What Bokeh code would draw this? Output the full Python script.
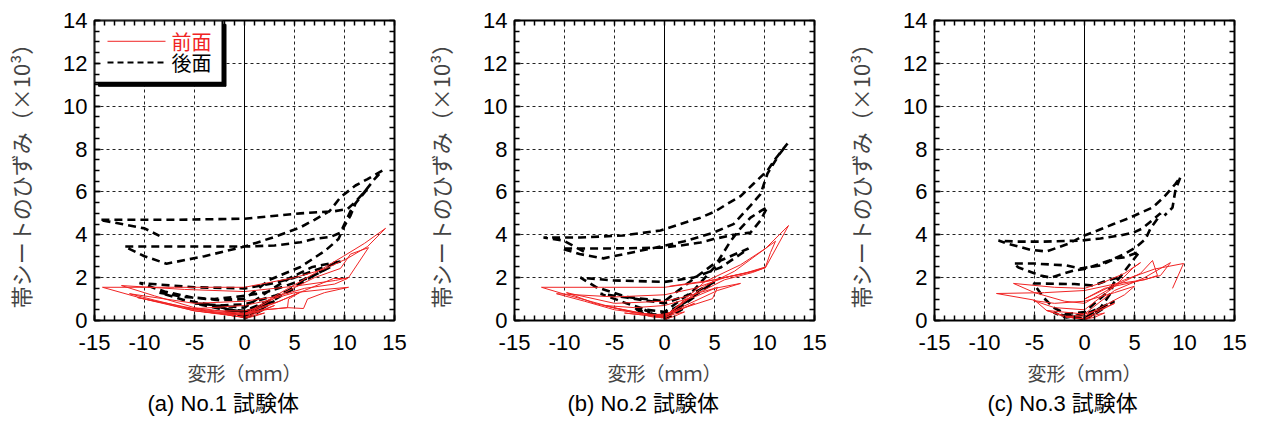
from bokeh.plotting import figure
from bokeh.layouts import row
from bokeh.models import (FixedTicker, LinearAxis, Span, Title)
from bokeh.core.properties import value
from bokeh.embed import file_html
from bokeh.resources import INLINE
import numpy as np

# ---------------- data ----------------
X_TICKS = [-15, -10, -5, 0, 5, 10, 15]
Y_TICKS = [0, 2, 4, 6, 8, 10, 12, 14]
X_LABEL = "変形（ｍｍ）"
Y_LABEL = "帯シートのひずみ（×10³）"
CAPTIONS = ["(a) No.1 試験体", "(b) No.2 試験体", "(c) No.3 試験体"]
SERIES_NAMES = ["前面", "後面"]

# Panel (a) No.1 : back face (dashed)
a_back_x = [0, 1, 2, 1, 0, -1, -2, -1, 0,
            1.5, 3, 1.5, 0, -1.5, -3, -1.5, 0,
            2.5, 5, 3, 0, -2.5, -5, -2.5, 0,
            2.9, 5.1, 7.3, 8.6, 6.5, 4, 2, 0, -3, -6, -8.5, -6, -3, 0,
            2.5, 4.6, 6.8, 9.6, 8, 5, 2.5, 0, -5, -10.5, -8, -5, -2.5, 0,
            2.5, 5.6, 8.1, 9.4, 9.9, 10.6, 11.1, 12.1, 12.4, 10.8, 9.6, 8.6, 6.9, 5.6, 3, 0, -6, -12, -10, -7.8, -4, 0,
            3, 5.6, 7, 8.5, 9.6, 11.1, 12.3, 13.8, 13, 12, 11, 10.3, 9, 5.6, 0, -7, -14.5, -10, -8.5]
a_back_y = [0.1, 0.3, 0.55, 0.4, 0.2, 0.3, 0.45, 0.3, 0.15,
            0.5, 0.9, 0.65, 0.4, 0.5, 0.7, 0.5, 0.3,
            0.85, 1.5, 1.15, 0.75, 0.7, 0.8, 0.55, 0.45,
            1.0, 1.6, 2.2, 2.5, 2.0, 1.6, 1.3, 1.15, 1.0, 1.1, 1.3, 0.95, 0.7, 0.6,
            1.4, 2.0, 2.5, 2.75, 2.5, 2.0, 1.7, 1.5, 1.55, 1.75, 1.35, 1.05, 0.95, 1.0,
            1.9, 2.5, 3.27, 3.8, 4.34, 4.9, 5.46, 6.07, 6.2, 5.3, 4.1, 3.9, 3.8, 3.65, 3.5, 3.45, 3.45, 3.45, 3.0, 2.65, 3.0, 3.45,
            3.9, 4.35, 4.7, 5.1, 5.75, 6.3, 6.6, 7.0, 6.6, 6.0, 5.5, 5.2, 5.1, 5.0, 4.75, 4.7, 4.7, 4.3, 3.95]
# Panel (a) No.1 : front face (solid)
a_front_x = [0, 1, 2, 1, 0, -1, -2, -1, 0,
             1.5, 3, 1.5, 0, -2, -4, -2, 0,
             2, 4.3, 4.4, 5.5, 3.5, 1.5, 0, -3, -6, -3, 0,
             2, 4.3, 5.9, 6.3, 8, 10.4, 8, 5, 2, 0, -5, -10.7, -8, -5, -2, 0,
             3, 6, 8.9, 10.3, 9, 6, 3, 0, -5, -11.5, -9, -5, 0,
             4, 7, 9.6, 10.6, 12.4, 10.4, 9.1, 5, 0, -6, -12.3, -9, -5, 0,
             4, 7, 9.9, 12, 14.1, 12.3, 10.3, 8, 5, 0, -7, -14.2, -10, -5, 0]
a_front_y = [0.1, 0.2, 0.35, 0.25, 0.15, 0.2, 0.3, 0.2, 0.15,
             0.4, 0.7, 0.45, 0.3, 0.3, 0.4, 0.3, 0.25,
             0.5, 0.6, 1.0, 1.3, 0.9, 0.6, 0.45, 0.45, 0.6, 0.4, 0.35,
             0.5, 0.6, 0.56, 1.0, 1.3, 1.55, 1.45, 1.3, 0.9, 0.7, 0.55, 1.07, 0.8, 0.45, 0.3, 0.3,
             0.8, 1.4, 1.96, 1.96, 1.7, 1.5, 1.1, 0.9, 0.8, 1.25, 0.95, 0.5, 0.25,
             1.3, 2.0, 2.43, 3.1, 3.4, 2.0, 1.87, 1.6, 1.35, 1.45, 1.63, 1.15, 0.6, 0.3,
             1.4, 2.2, 3.0, 3.6, 4.3, 3.45, 2.9, 2.4, 2.0, 1.55, 1.55, 1.55, 1.0, 0.45, 0.15]

# Panel (b) No.2 : back face (dashed)
b_back_x = [0, 1, 2, 1, 0, -1, -2, -1, 0,
            1.5, 3, 1.5, 0, -1.8, -3.1, -1.8, 0,
            2.5, 5, 3, 0, -3.8, -6.4, -3.8, -1.8, 0,
            2.9, 5.6, 8.4, 7.3, 5.6, 2.9, 0, -5.1, -8.4, -6.8, -3.8, 0,
            2.5, 5.4, 6.6, 7.6, 8.6, 9.6, 10.3, 9.6, 8.6, 6.9, 4.9, 3.6, 1.6, -0.4, -5.3, -10.3, -8.5, -6.1, -3, -0.4,
            2, 4.9, 6.9, 8.6, 9.6, 10.3, 11.4, 12.3, 11.1, 10.3, 8.9, 7.6, 6.3, 5.1, 3.6, 1.6, -0.4, -4.1, -8.4, -12.1, -10.1, -8]
b_back_y = [0.05, 0.3, 0.6, 0.4, 0.15, 0.25, 0.5, 0.3, 0.1,
            0.6, 1.1, 0.7, 0.3, 0.25, 0.6, 0.35, 0.2,
            1.0, 1.8, 1.3, 0.8, 1.07, 1.25, 0.8, 0.5, 0.4,
            1.4, 2.8, 3.36, 3.0, 2.47, 2.0, 1.8, 1.87, 2.0, 1.55, 1.1, 0.9,
            1.8, 2.8, 3.7, 4.3, 4.8, 5.1, 5.3, 4.67, 4.1, 4.0, 3.8, 3.64, 3.5, 3.4, 3.36, 3.36, 3.1, 2.9, 3.2, 3.45,
            3.7, 4.1, 4.5, 5.36, 5.9, 6.86, 7.7, 8.26, 7.55, 7.0, 6.38, 5.8, 5.45, 5.1, 4.8, 4.5, 4.2, 3.97, 3.87, 3.87, 3.73, 3.2]
# Panel (b) No.2 : front face (solid)
b_front_x = [0, 1, 2, 1, 0, -1, -2, -1, 0,
             1.5, 3, 1.5, 0, -2, -4, -2, 0,
             2, 4.8, 5.3, 3, 0, -3, -6, -3, 0,
             3, 5.3, 7.6, 5, 2, 0, -5, -9.8, -7, -5.1, -2, 0,
             3, 6, 8.8, 10.1, 9, 6, 3, 0, -5, -10.8, -8, -5, 0,
             4, 7, 10.1, 11.1, 10.6, 10.1, 8, 4, 0, -6, -12.3, -9.8, -5.1, 0,
             4, 7.6, 10.1, 12.4, 10.1, 8.8, 5, 0.5]
b_front_y = [0.05, 0.2, 0.4, 0.3, 0.15, 0.15, 0.25, 0.2, 0.1,
             0.5, 0.8, 0.5, 0.3, 0.25, 0.35, 0.25, 0.2,
             0.6, 1.02, 1.55, 1.1, 0.7, 0.6, 0.7, 0.35, 0.25,
             0.9, 1.4, 1.73, 1.5, 1.1, 0.9, 0.8, 1.3, 0.8, 0.6, 0.3, 0.2,
             1.2, 1.9, 2.24, 2.47, 2.3, 2.0, 1.5, 1.2, 1.1, 1.25, 0.9, 0.5, 0.2,
             1.6, 2.3, 3.36, 3.7, 3.17, 2.5, 2.2, 1.8, 1.55, 1.55, 1.55, 1.2, 0.6, 0.14,
             1.8, 2.6, 3.36, 4.43, 2.47, 2.3, 1.9, 1.6]

# Panel (c) No.3 : back face (dashed)
c_back_x = [0, 1, 2, 1, 0, -1, -2, -1, 0,
            1.5, 3, 1.6, 0.3, -1.8, -3.1, -1.8, 0,
            1.6, 2.6, 2.9, 3.3, 2.3, 0.9, -1, -5.1, -4.1, -3.1, -1.8, 0,
            2, 3.5, 4.5, 5.5, 3.9, 3.1, 1.6, -0.4, -1.8, -5.1, -7.1, -6.6, -4.4, -3.4, -1.1, 0,
            2.5, 4, 5.1, 6.1, 6.6, 7.3, 7.6, 5.8, 4.9, 3.6, 1.6, -0.4, -4.1, -6.8, -8.6, -7.8, -5.4, -3.8, -1.5, 0,
            1.3, 2.9, 4.3, 5.4, 6.8, 7.9, 9.1, 9.6, 9.1, 8.8, 8]
c_back_y = [0.05, 0.3, 0.6, 0.35, 0.1, 0.15, 0.3, 0.15, 0.05,
            0.5, 0.9, 0.6, 0.33, 0.14, 0.37, 0.2, 0.1,
            0.6, 1.26, 1.73, 2.0, 1.87, 1.63, 1.7, 1.73, 1.07, 0.6, 0.3, 0.4,
            1.2, 2.0, 2.6, 3.2, 2.94, 2.9, 2.57, 2.43, 2.57, 2.66, 2.66, 2.47, 2.1, 2.0, 2.33, 2.4,
            2.8, 3.1, 3.4, 3.8, 4.3, 4.75, 5.0, 4.3, 4.1, 3.97, 3.83, 3.73, 3.68, 3.68, 3.73, 3.6, 3.3, 3.22, 3.6, 3.97,
            4.2, 4.5, 4.75, 4.98, 5.27, 5.74, 6.38, 6.7, 6.1, 5.27, 4.9]
# Panel (c) No.3 : front face (solid)
c_front_x = [0, 1, 2, 1, 0, -1, -2, -1, 0,
             1.5, 3, 1.5, 0, -1.8, -3.8, -1.8, 0,
             2, 4, 5, 3, 0, -3, -5.1, -3, 0,
             2.9, 4.9, 5.6, 4, 2, 0, -3, -7.1, -5, -2, 0,
             3, 5.6, 6.8, 7.3, 6, 3, 0, -4, -8.8, -5, -3.8, 0,
             3, 6, 8.6, 7.6, 5, 2, 0,
             4, 7, 9.9, 8.8]
c_front_y = [0.05, 0.15, 0.35, 0.25, 0.1, 0.1, 0.2, 0.12, 0.08,
             0.45, 0.8, 0.5, 0.3, 0.14, 0.47, 0.2, 0.2,
             0.7, 1.2, 1.6, 1.3, 0.9, 0.8, 0.93, 0.6, 0.5,
             1.55, 2.47, 2.7, 2.2, 1.8, 1.5, 1.55, 1.73, 1.3, 0.9, 0.8,
             1.6, 2.2, 2.8, 2.1, 1.9, 1.7, 1.4, 1.3, 1.26, 0.95, 0.47, 0.3,
             1.4, 2.0, 2.7, 2.1, 1.8, 1.5, 1.0,
             1.9, 2.4, 2.66, 1.5]

PANELS = [
    (a_front_x, a_front_y, a_back_x, a_back_y),
    (b_front_x, b_front_y, b_back_x, b_back_y),
    (c_front_x, c_front_y, c_back_x, c_back_y),
]

# ---------------- styles ----------------
RED = "#f02424"
CJK = "Noto Sans CJK JP"
NUM = "Liberation Sans"
X_RANGE = (-15, 15)
Y_RANGE = (0, 14)
X_MINOR = list(np.arange(-15, 15.01, 1.0))
Y_MINOR = list(np.arange(0, 14.01, 0.5))


def style_axis(ax, labels=True):
    ax.axis_line_color = None
    ax.major_tick_in = 6
    ax.major_tick_out = 0
    ax.minor_tick_in = 5
    ax.minor_tick_out = 0
    ax.major_tick_line_color = "black"
    ax.minor_tick_line_color = "black"
    ax.major_tick_line_width = 1.5
    ax.minor_tick_line_width = 1.5
    if labels:
        ax.major_label_text_font = NUM
        ax.major_label_text_font_size = "22px"
        ax.major_label_text_color = "black"


def make_panel(i, fx, fy, bx, by, legend=False):
    p = figure(width=420, height=421, x_range=X_RANGE, y_range=Y_RANGE,
               output_backend="svg", toolbar_location=None,
               min_border_left=94, min_border_right=26,
               min_border_top=20, min_border_bottom=101)
    p.background_fill_color = "white"
    p.border_fill_color = "white"
    p.outline_line_color = "black"
    p.outline_line_width = 2

    xt = FixedTicker(ticks=X_TICKS, minor_ticks=X_MINOR)
    yt = FixedTicker(ticks=Y_TICKS, minor_ticks=Y_MINOR)

    xa = p.xaxis[0]
    ya = p.yaxis[0]
    xa.ticker = xt
    ya.ticker = yt
    style_axis(xa)
    style_axis(ya)
    xa.major_label_overrides = {t: str(t) for t in X_TICKS}
    xa.major_label_standoff = 14
    ya.major_label_standoff = 7
    xa.axis_label = X_LABEL
    xa.axis_label_text_font = CJK
    xa.axis_label_text_font_size = "19px"
    xa.axis_label_text_font_style = "normal"
    xa.axis_label_standoff = 6
    ya.axis_label = Y_LABEL
    ya.axis_label_text_font = CJK
    ya.axis_label_text_font_size = "22px"
    ya.axis_label_text_font_style = "normal"
    ya.axis_label_standoff = 24

    # frame ticks on the top and right sides (no labels)
    top = LinearAxis(ticker=FixedTicker(ticks=[], minor_ticks=X_MINOR))
    style_axis(top, labels=False)
    p.add_layout(top, "above")
    right = LinearAxis(ticker=FixedTicker(ticks=[], minor_ticks=Y_MINOR))
    style_axis(right, labels=False)
    p.add_layout(right, "right")

    for g in (p.xgrid[0], p.ygrid[0]):
        g.grid_line_color = "#222222"
        g.grid_line_dash = "3 3"
        g.grid_line_width = 1
    p.xgrid[0].ticker = xt
    p.ygrid[0].ticker = yt

    p.add_layout(Span(location=0, dimension="height", line_color="black", line_width=1))

    p.line(bx, by, line_color="black", line_width=2.6, line_dash="8 5")
    p.line(fx, fy, line_color=RED, line_width=1)

    cap = Title(text=CAPTIONS[i], align="left", offset=53, text_font=NUM + ", " + CJK,
                text_font_size="22px", text_font_style="normal", text_color="black",
                standoff=0)
    p.add_layout(cap, "below")

    if legend:
        p.quad(left=[-14.6], right=[-1.85], top=[13.82], bottom=[10.93],
               fill_color="black", line_color="black")
        p.quad(left=[-15], right=[-2.2], top=[14], bottom=[11.1],
               fill_color="white", line_color="black", line_width=2)
        p.line([-13.7, -7.9], [13.03, 13.03], line_color=RED, line_width=1)
        p.line([-13.7, -7.9], [12.04, 12.04], line_color="black", line_width=2, line_dash="6 4")
        p.text(x=[-7.3], y=[13.03], text=[SERIES_NAMES[0]], text_font=value(CJK),
               text_font_size="20px", text_color=RED, text_baseline="middle")
        p.text(x=[-7.3], y=[12.04], text=[SERIES_NAMES[1]], text_font=value(CJK),
               text_font_size="20px", text_color="black", text_baseline="middle")
    return p


plots = [make_panel(i, *PANELS[i], legend=(i == 0)) for i in range(3)]
layout = row(*plots, spacing=0)
open("out.html", "w").write(file_html(layout, INLINE))
